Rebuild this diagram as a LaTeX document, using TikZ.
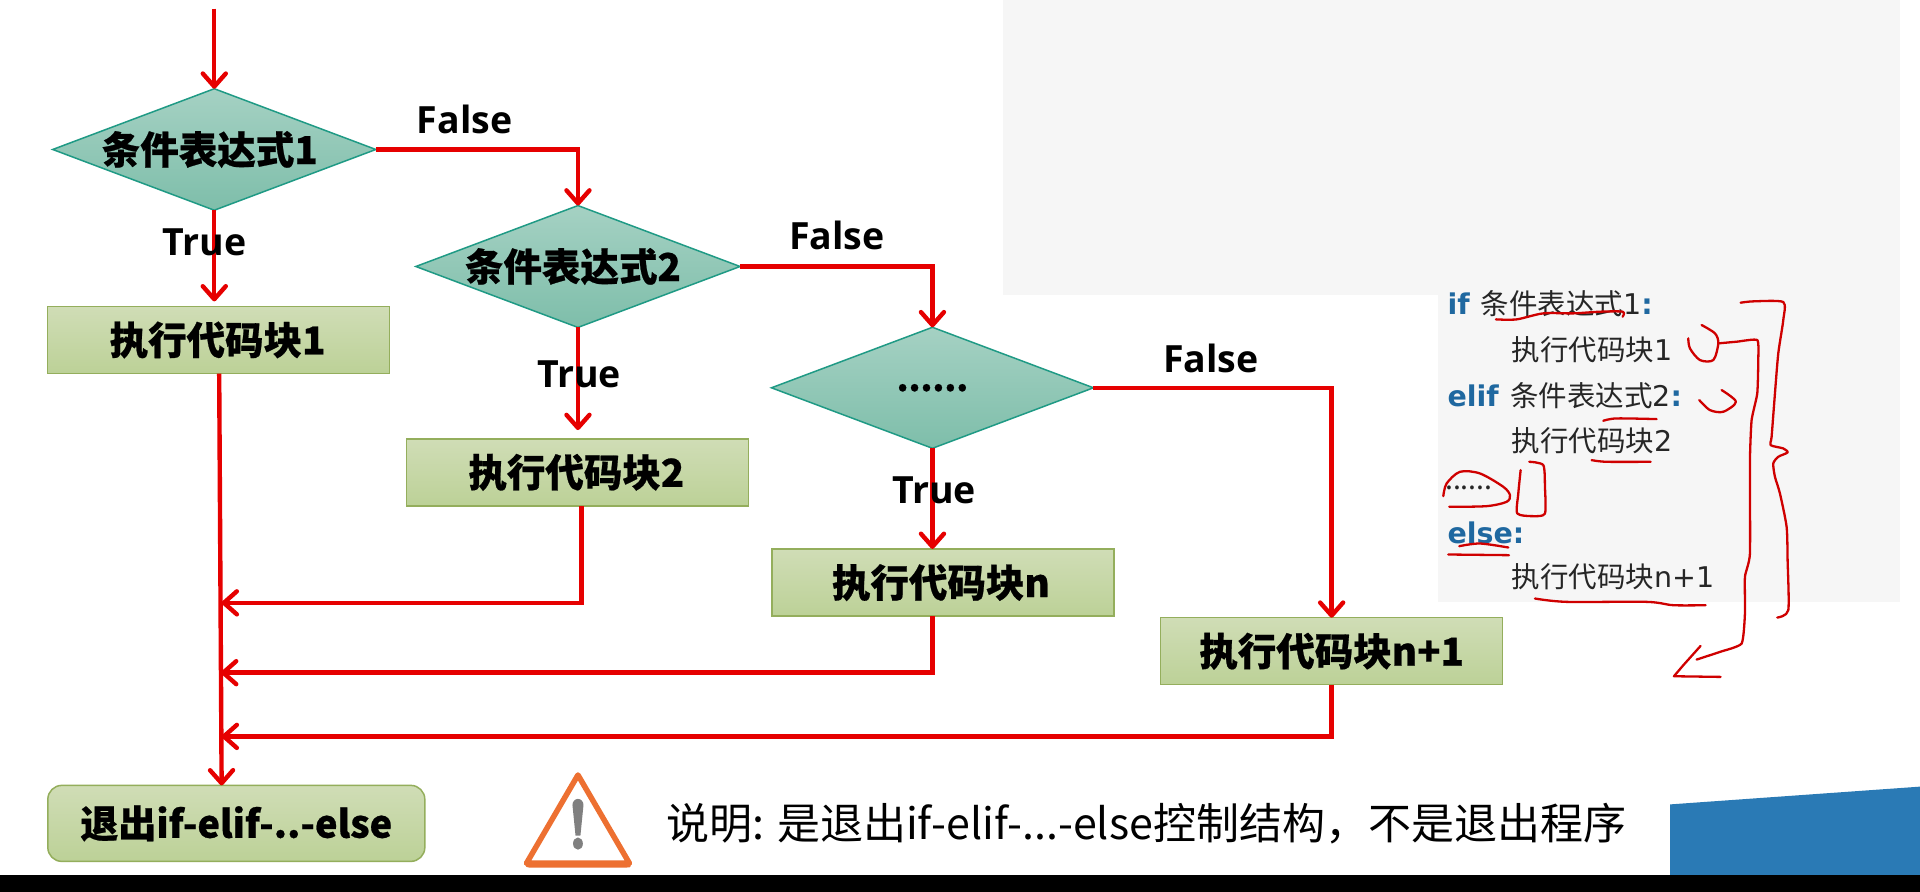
\documentclass[tikz,border=0pt]{standalone}
\usepackage{fontspec}
\setmainfont{Open Sans}
\newfontfamily\cjk{Noto Sans CJK SC}[BoldFeatures={FakeBold=0.6}]
\newfontfamily\codefont{DejaVu Sans}
\usetikzlibrary{shapes.geometric,arrows.meta}
\definecolor{redline}{HTML}{E60000}
\definecolor{diatop}{HTML}{A5D1C3}
\definecolor{diabot}{HTML}{7EBEAA}
\definecolor{diaedge}{HTML}{1F9A85}
\definecolor{boxtop}{HTML}{D0DDB6}
\definecolor{boxbot}{HTML}{BCD197}
\definecolor{boxedge}{HTML}{94AE5C}
\definecolor{panel}{HTML}{F6F6F6}
\definecolor{kw}{HTML}{1F68A0}
\definecolor{warn}{HTML}{ED7031}
\definecolor{bluepoly}{HTML}{2A7AB5}
\tikzset{
  decision/.style={diamond,shape aspect=2.66,draw=diaedge,line width=1.5pt,top color=diatop,bottom color=diabot,
    minimum width=322pt,minimum height=121pt,inner sep=0pt,outer sep=0pt,font=\cjk\bfseries\fontsize{38.5}{40}\selectfont},
  block/.style={rectangle,draw=boxedge,line width=1.5pt,top color=boxtop,bottom color=boxbot,
    minimum width=342pt,minimum height=67pt,inner sep=0pt,outer sep=0pt,font=\cjk\bfseries\fontsize{38.5}{40}\selectfont},
  exitblock/.style={block,rounded corners=14pt,minimum width=377pt,minimum height=76pt},
  flow/.style={draw=redline,line width=4.4pt,-{Straight Barb[length=13pt,width=23pt,round]}},
  branch/.style={font=\bfseries\fontsize{37.5}{40}\selectfont,text=black,inner sep=0pt},
  codekw/.style={anchor=west,inner sep=0pt,text=kw,font=\codefont\bfseries\fontsize{28.5}{30}\selectfont},
  codeline/.style={anchor=west,inner sep=0pt,text=black!85,font=\cjk\fontsize{28.5}{30}\selectfont},
  ink/.style={draw=redline!90!black,line width=2.3pt,line cap=round,line join=round}
}
\newcommand{\latn}[1]{{\codefont #1}}
\begin{document}
\begin{tikzpicture}[x=1.22449pt,y=-1.22527pt]
\useasboundingbox (0,0) rectangle (1568,728);
\fill[white] (0,0) rectangle (1568,728);
% panels
\fill[panel] (819,0) rectangle (1552,240.5);
\fill[panel] (1174,225) rectangle (1552,491.5);
% blue polygon and band
\fill[bluepoly] (1364,656.5) -- (1568,642) -- (1568,714) -- (1364,714) -- cycle;
\fill[black] (0,714) rectangle (1568,728);

% nodes
\node[decision] (d1) at (175,122) {条件表达式1\kern9pt\relax};
\node[decision] (d2) at (472,217.5) {条件表达式2\kern10pt\relax};
\node[decision] (d3) at (761.5,316.5) {\fontsize{34}{36}\selectfont ......};
\node[block] (b1) at (178.5,277.5) {执行代码块1\kern2pt\relax};
\node[block] (b2) at (471.5,385.5) {执行代码块2\kern2pt\relax};
\node[block] (bn) at (770,475.5) {执行代码块n\kern4pt\relax};
\node[block] (bm) at (1087.5,531.5) {执行代码块n+1};
\node[exitblock] (ex) at (193,672) {\fontsize{38}{40}\selectfont 退出if-elif-..-else};

% connector points
\coordinate (start) at (175,7);
\coordinate (t1) at (175,246);
\coordinate (t2) at (472,351);
\coordinate (t3) at (761.5,448);
\coordinate (o1) at (179,305);
\coordinate (in) at (181,641);
\coordinate (o2) at (475,413);
\coordinate (o3) at (761.5,503);
\coordinate (j2) at (181,492);
\coordinate (j3) at (180.5,549);
\coordinate (j4) at (181,601);

% connectors
\draw[flow] (start) -- (d1.north);
\draw[flow] (d1.south) -- (t1);
\draw[flow] (d1.east) -| (d2.north);
\draw[flow] (d2.south) -- (t2);
\draw[flow] (d2.east) -| (d3.north);
\draw[flow] (d3.south) -- (t3);
\draw[flow] (d3.east) -| (bm.north);
\draw[flow] (o1) -- (in);
\draw[flow] (o2) |- (j2);
\draw[flow] (o3) |- (j3);
\draw[flow] (bm.south) |- (j4);

% branch labels
\node[branch] (f1) at (379.5,97.5) {False};
\node[branch] (f2) at (683.5,192.5) {False};
\node[branch] (f3) at (989,292.5) {False};
\node[branch] (r1) at (167,197.5) {True};
\node[branch] (r2) at (473,305.5) {True};
\node[branch] (r3) at (763,400) {True};

% warning sign
\draw[warn,line width=5.5pt,line join=round,fill=white] (472,632.5) -- (514,704.5) -- (430,704.5) -- cycle;
\fill[warn] (428.5,703) -- (515.5,703) -- (515,707) to[out=270,in=0] (512,708) -- (432,708) to[out=180,in=270] (429,706) -- cycle;
\fill[black!50] (467.5,657) to[out=90,in=180] (472,652) to[out=0,in=90] (476.5,657) -- (474,682) -- (470,682) -- cycle;
\fill[black!50] (472,688.5) ellipse (4 and 5);
\node[anchor=west,inner sep=0pt,font=\fontsize{43}{46}\selectfont] (note) at (544,672.5) {\cjk 说明: 是退出if-elif-...-else控制结构，不是退出程序};

% code text
\node[codekw] (c1) at (1182,248) {if};
\node[codeline] (c1b) at (1209,248) {条件表达式\latn{1}\textcolor{kw}{\codefont\bfseries :}};
\node[codeline] (c2) at (1234.5,285) {执行代码块\latn{1}};
\node[codekw] (c3) at (1182,323) {elif};
\node[codeline] (c3b) at (1233,323) {条件表达式\latn{2}\textcolor{kw}{\codefont\bfseries :}};
\node[codeline] (c4) at (1234.5,360) {执行代码块\latn{2}};
\node[codeline] (c5) at (1180,398) {......};
\node[codekw] (c6) at (1182,435) {else:};
\node[codeline] (c7) at (1234.5,471) {执行代码块\latn{n+1}};

% pen annotations
\begin{scope}[shift={(1143.3,212.2)},scale=0.2722]
\draw[ink] plot[smooth] coordinates {(288,178)(350,178)(430,160)(520,160)(600,155)(668,155)(668,170)};
\draw[ink] plot[smooth,tension=0.4] coordinates {(1022,128)(1060,124)(1150,126)(1150,180)(1135,280)(1125,400)(1115,530)(1112,555)(1150,565)(1163,577)(1135,590)(1120,610)(1125,650)(1140,700)(1160,800)(1163,900)(1165,1050)(1132,1072)};
\draw[ink] plot[smooth] coordinates {(865,235)(870,265)(900,300)(940,300)(955,250)(945,220)(905,195)};
\draw[ink] plot[smooth,tension=0.3] coordinates {(955,250)(1010,245)(1072,240)(1075,300)(1072,400)(1055,480)(1050,600)(1050,880)(1035,950)(1035,1060)(1025,1150)(960,1175)(890,1198)};
\draw[ink] (902,1157) -- (850,1215) -- (822,1248) -- (962,1250);
\draw[ink] plot[smooth] coordinates {(898,420)(930,450)(970,455)(1008,425)(965,390)};
\draw[ink] plot[smooth] coordinates {(610,482)(650,475)(770,477)};
\draw[ink] plot[smooth] coordinates {(575,600)(620,605)(752,605)};
\draw[ink] plot[smooth,tension=0.4] coordinates {(388,605)(430,615)(435,680)(435,760)(400,768)(352,760)(355,700)(362,630)};
\draw[ink] plot[smooth] coordinates {(130,708)(140,670)(180,635)(240,640)(310,680)(330,705)(320,725)(260,738)(148,740)};
\draw[ink] plot[smooth] coordinates {(178,858)(240,850)(325,862)};
\draw[ink] plot[smooth] coordinates {(145,883)(327,885)};
\draw[ink] plot[smooth] coordinates {(405,1015)(500,1025)(740,1025)(820,1035)(917,1035)};
\end{scope}
\end{tikzpicture}
\end{document}
